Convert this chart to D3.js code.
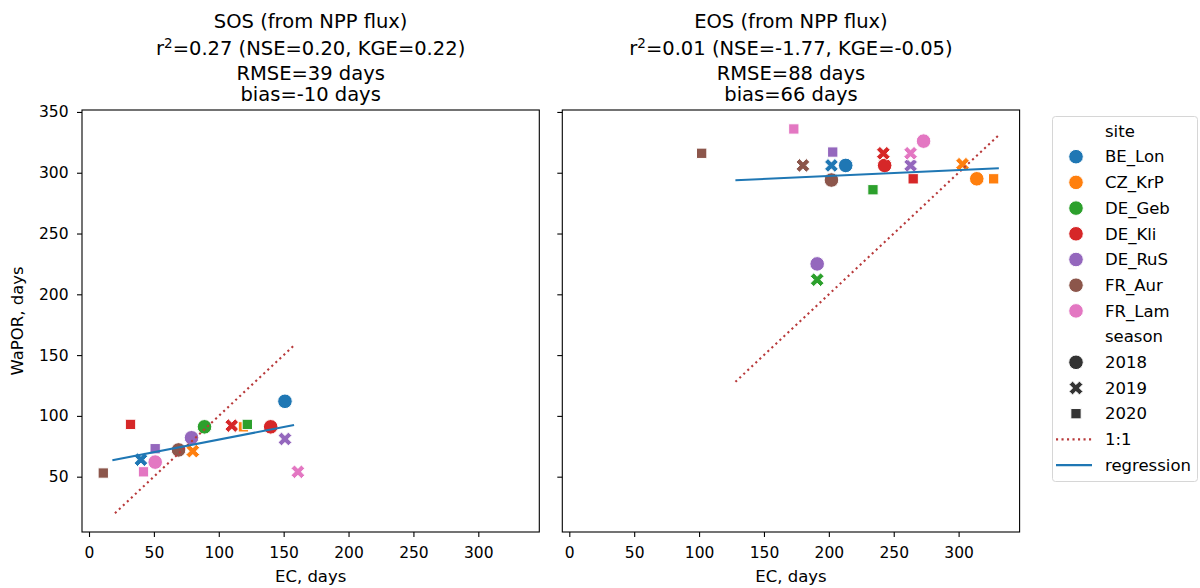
<!DOCTYPE html>
<html>
<head>
<meta charset="utf-8">
<script src="https://cdn.jsdelivr.net/npm/d3@7"></script>
<style>
  body { margin: 0; background: #fff; }
  svg text { font-family: "DejaVu Sans", sans-serif; fill: #000; }
</style>
</head>
<body>
<div id="chart"></div>
<script>
// sites + seasons
var sites = ["BE_Lon", "CZ_KrP", "DE_Geb", "DE_Kli", "DE_RuS", "FR_Aur", "FR_Lam"];
var siteColors = ["#1f77b4", "#ff7f0e", "#2ca02c", "#d62728", "#9467bd", "#8c564b", "#e377c2"];
var seasons = ["2018", "2019", "2020"];

// SOS panel (EC vs WaPOR, days)
var sosSite   = ["BE_Lon","DE_Geb","DE_Kli","DE_RuS","FR_Aur","FR_Lam",
                 "BE_Lon","CZ_KrP","DE_Kli","DE_RuS","FR_Lam",
                 "CZ_KrP","DE_Geb","DE_Kli","DE_RuS","FR_Aur","FR_Lam"];
var sosSeason = ["2018","2018","2018","2018","2018","2018",
                 "2019","2019","2019","2019","2019",
                 "2020","2020","2020","2020","2020","2020"];
var sosEC     = [151, 89, 140, 79, 69, 51,   40, 80, 110, 151, 161,   119, 122, 32, 51, 11, 42];
var sosWaPOR  = [112, 91, 91, 82, 72, 62,    64, 71, 92, 81, 54,      91, 93, 93, 73, 53, 54];

// EOS panel
var eosSite   = ["BE_Lon","CZ_KrP","DE_Kli","DE_RuS","FR_Aur","FR_Lam",
                 "BE_Lon","CZ_KrP","DE_Geb","DE_Kli","DE_RuS","FR_Aur","FR_Lam",
                 "CZ_KrP","DE_Geb","DE_Kli","DE_RuS","FR_Aur","FR_Lam"];
var eosSeason = ["2018","2018","2018","2018","2018","2018",
                 "2019","2019","2019","2019","2019","2019","2019",
                 "2020","2020","2020","2020","2020","2020"];
var eosEC     = [213, 314, 243, 191, 202, 273,   202, 303, 191, 242, 263, 180, 263,   327, 234, 265, 203, 102, 173];
var eosWaPOR  = [306, 295, 306, 225, 294, 326,   306, 307, 212, 316, 306, 306, 316,   295, 286, 295, 317, 316, 336];

// 1:1 and regression line end points
var sosOneToOne = [20, 158];
var sosRegX = [18, 158], sosRegY = [63.5, 92.5];
var eosOneToOne = [128, 331];
var eosRegX = [128, 331], eosRegY = [293.8, 303.7];

var xTicks = [0, 50, 100, 150, 200, 250, 300];
var yTicks = [50, 100, 150, 200, 250, 300, 350];

var sosTitle = ["SOS (from NPP flux)", ["0.27", "0.20", "0.22"], "RMSE=39 days", "bias=-10 days"];
var eosTitle = ["EOS (from NPP flux)", ["0.01", "-1.77", "-0.05"], "RMSE=88 days", "bias=66 days"];

var W = 1200, H = 588;
var svg = d3.select("#chart").append("svg").attr("width", W).attr("height", H);

var y = d3.scaleLinear().domain([4.5, 351.6]).range([532, 110]);
var ONE_COLOR = "#b8393a";
var MS = 14.6; // marker size px

function markerPath(season, s) {
    if (season === "2018") {
        var r = s / 2;
        return "M" + r + ",0A" + r + "," + r + " 0 1,1 " + (-r) + ",0A" + r + "," + r + " 0 1,1 " + r + ",0Z";
    }
    if (season === "2020") {
        var h = s / Math.SQRT2 / 2;
        return "M" + (-h) + "," + (-h) + "H" + h + "V" + h + "H" + (-h) + "Z";
    }
    // filled X: plus shape rotated 45deg
    var pts = [[-1,-3],[1,-3],[1,-1],[3,-1],[3,1],[1,1],[1,3],[-1,3],[-1,1],[-3,1],[-3,-1],[-1,-1]];
    var c = Math.SQRT1_2;
    return "M" + pts.map(function(p) {
        var px = p[0] / 6 * s, py = p[1] / 6 * s;
        return [(px * c - py * c).toFixed(2), (px * c + py * c).toFixed(2)].join(",");
    }).join("L") + "Z";
}

function panel(x0, x1, showYLabels, site, season, ec, wapor, one, regX, regY, title) {
    var x = d3.scaleLinear().domain([-5.4, 347]).range([x0, x1]);
    var g = svg.append("g");

    // axes
    var xa = g.append("g").attr("transform", "translate(0,532)")
        .call(d3.axisBottom(x).tickValues(xTicks).tickSize(5).tickSizeOuter(0));
    xa.select(".domain").remove();
    xa.selectAll("text").attr("y", 26).attr("dy", null)
        .style("font-size", "15.5px").style("font-family", "DejaVu Sans");
    xa.selectAll("line").attr("stroke-width", 1.1);

    var ya = g.append("g").attr("transform", "translate(" + x0 + ",0)")
        .call(d3.axisLeft(y).tickValues(yTicks).tickSize(5).tickSizeOuter(0).tickPadding(8.5));
    ya.select(".domain").remove();
    ya.selectAll("line").attr("stroke-width", 1.1);
    if (showYLabels) {
        ya.selectAll("text").style("font-size", "15.5px").style("font-family", "DejaVu Sans");
    } else {
        ya.selectAll("text").remove();
    }

    // points
    g.selectAll("path.pt").data(ec).enter().append("path")
        .attr("class", "pt")
        .attr("transform", function(d, i) { return "translate(" + x(d) + "," + y(wapor[i]) + ")"; })
        .attr("d", function(d, i) { return markerPath(season[i], MS); })
        .attr("fill", function(d, i) { return siteColors[sites.indexOf(site[i])]; })
        .attr("stroke", "#fff").attr("stroke-width", 1);

    // 1:1
    g.append("line")
        .attr("x1", x(one[0])).attr("y1", y(one[0]))
        .attr("x2", x(one[1])).attr("y2", y(one[1]))
        .attr("stroke", ONE_COLOR).attr("stroke-width", 2.1)
        .attr("stroke-dasharray", "2.1,3.4");

    // regression
    g.append("line")
        .attr("x1", x(regX[0])).attr("y1", y(regY[0]))
        .attr("x2", x(regX[1])).attr("y2", y(regY[1]))
        .attr("stroke", "#1f77b4").attr("stroke-width", 2.1);

    // frame
    g.append("rect").attr("x", x0).attr("y", 110).attr("width", x1 - x0).attr("height", 422)
        .attr("fill", "none").attr("stroke", "#000").attr("stroke-width", 1.1);

    // titles
    var cx = (x0 + x1) / 2;
    var t = g.append("g").attr("text-anchor", "middle").style("font-size", "19.5px");
    t.append("text").attr("x", cx).attr("y", 28).text(title[0]);
    var t2 = t.append("text").attr("x", cx).attr("y", 55);
    t2.append("tspan").text("r");
    t2.append("tspan").attr("dy", -7.5).style("font-size", "13.5px").text("2");
    t2.append("tspan").attr("dy", 7.5).text("=" + title[1][0] + " (NSE=" + title[1][1] + ", KGE=" + title[1][2] + ")");
    t.append("text").attr("x", cx).attr("y", 80).text(title[2]);
    t.append("text").attr("x", cx).attr("y", 101).text(title[3]);

    g.append("text").attr("x", cx).attr("y", 582).attr("text-anchor", "middle")
        .style("font-size", "16.5px").text("EC, days");
}

panel(82, 539.3, true, sosSite, sosSeason, sosEC, sosWaPOR, sosOneToOne, sosRegX, sosRegY, sosTitle);
panel(562.3, 1019.6, false, eosSite, eosSeason, eosEC, eosWaPOR, eosOneToOne, eosRegX, eosRegY, eosTitle);

svg.append("text").attr("transform", "translate(23,321) rotate(-90)")
    .attr("text-anchor", "middle").style("font-size", "16.5px").text("WaPOR, days");

// legend
var lg = svg.append("g");
lg.append("rect").attr("x", 1052.5).attr("y", 116.5).attr("width", 145).attr("height", 365)
    .attr("rx", 3).attr("fill", "#fff").attr("stroke", "#d6d6d6").attr("stroke-width", 1);

var rows = [];
rows.push({label: "site"});
sites.forEach(function(s, i) { rows.push({label: s, marker: "2018", color: siteColors[i]}); });
rows.push({label: "season"});
seasons.forEach(function(s) { rows.push({label: s, marker: s, color: "#333333"}); });
rows.push({label: "1:1", line: "dot"});
rows.push({label: "regression", line: "solid"});

rows.forEach(function(r, i) {
    var cy = 131 + i * 25.7;
    if (r.marker) {
        lg.append("path").attr("transform", "translate(1076," + cy + ")")
            .attr("d", markerPath(r.marker, MS)).attr("fill", r.color)
            .attr("stroke", "#fff").attr("stroke-width", 1);
    }
    if (r.line) {
        lg.append("line").attr("x1", 1056).attr("x2", 1092).attr("y1", cy).attr("y2", cy)
            .attr("stroke", r.line === "dot" ? ONE_COLOR : "#1f77b4").attr("stroke-width", 2.1)
            .attr("stroke-dasharray", r.line === "dot" ? "2.1,3.4" : null);
    }
    lg.append("text").attr("x", 1105).attr("y", cy).attr("dy", "0.35em")
        .style("font-size", "16.5px").text(r.label);
});
</script>
</body>
</html>
